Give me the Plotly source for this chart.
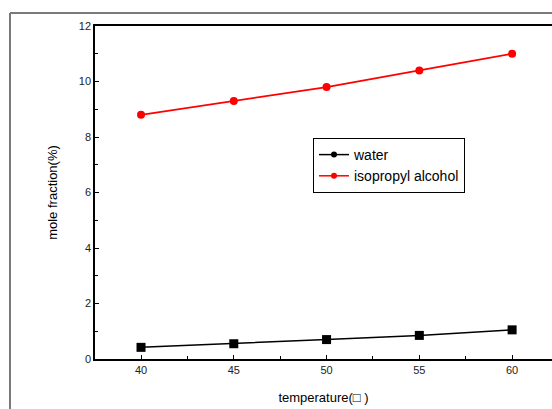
import plotly.graph_objects as go

# Measured mole fractions vs. temperature
temperature = [40, 45, 50, 55, 60]
water = [0.42, 0.55, 0.70, 0.85, 1.05]
isopropyl_alcohol = [8.8, 9.3, 9.8, 10.4, 11.0]

x_ticks = [40, 45, 50, 55, 60]
y_ticks = [0, 2, 4, 6, 8, 10, 12]

FONT = "Liberation Sans, Arial, sans-serif"

series = [
    ("water", water, "black", "square", 9, 1.5),
    ("isopropyl alcohol", isopropyl_alcohol, "#ff0000", "circle", 8, 1.8),
]

fig = go.Figure()
for name, vals, color, sym, size, lw in series:
    fig.add_trace(go.Scatter(
        x=temperature, y=vals, name=name, mode="lines+markers", showlegend=False,
        line=dict(color=color, width=lw),
        marker=dict(symbol=sym, size=size, color=color),
    ))
# legend entries with smaller sample markers
for name, vals, color, sym, size, lw in series:
    fig.add_trace(go.Scatter(
        x=[None], y=[None], name=name, mode="lines+markers",
        line=dict(color=color, width=1.5),
        marker=dict(symbol="circle", size=6, color=color),
    ))

W, H = 552, 409
ML, MR, MT, MB = 95, 0, 26, 50
pw, ph = W - ML - MR, H - MT - MB

# outer gray frame of the graph page (left and top edges)
fx = (10 - ML) / pw
fy = (H - MB - 13) / ph
frame = dict(type="line", xref="paper", yref="paper",
             line=dict(color="#7a7a7a", width=2))
fig.add_shape(x0=fx, x1=fx, y0=-MB / ph, y1=fy, **frame)
fig.add_shape(x0=fx, x1=1.0, y0=fy, y1=fy, **frame)

fig.update_layout(
    width=W, height=H,
    margin=dict(l=ML, r=MR, t=MT, b=MB),
    paper_bgcolor="white", plot_bgcolor="white",
    font=dict(family=FONT, color="black"),
    showlegend=True,
    legend=dict(
        x=(313 - ML) / pw, y=(H - MB - 138) / ph,
        xanchor="left", yanchor="top",
        bgcolor="white", bordercolor="black", borderwidth=1,
        font=dict(size=14, family=FONT),
        itemwidth=30, tracegroupgap=0,
    ),
    xaxis=dict(
        range=[37.52, 62.15], tickvals=x_ticks,
        ticks="inside", ticklen=4, tickwidth=1.2, tickcolor="black",
        minor=dict(dtick=2.5, ticks="inside", ticklen=3, tickcolor="black", tickwidth=1),
        showline=True, linecolor="black", linewidth=1.5, mirror=True,
        showgrid=False, zeroline=False,
        tickfont=dict(size=11, color="#222"),
        title=dict(text="temperature(□ )", font=dict(size=13), standoff=18),
    ),
    yaxis=dict(
        range=[0, 12], tickvals=y_ticks,
        ticks="inside", ticklen=4, tickwidth=1.2, tickcolor="black",
        minor=dict(dtick=1, ticks="inside", ticklen=3, tickcolor="black", tickwidth=1),
        showline=True, linecolor="black", linewidth=1.5, mirror=False,
        showgrid=False, zeroline=False,
        tickfont=dict(size=11, color="#222"),
        title=dict(text="mole fraction(%)", font=dict(size=13), standoff=18),
    ),
)

fig.write_html("out.html")
